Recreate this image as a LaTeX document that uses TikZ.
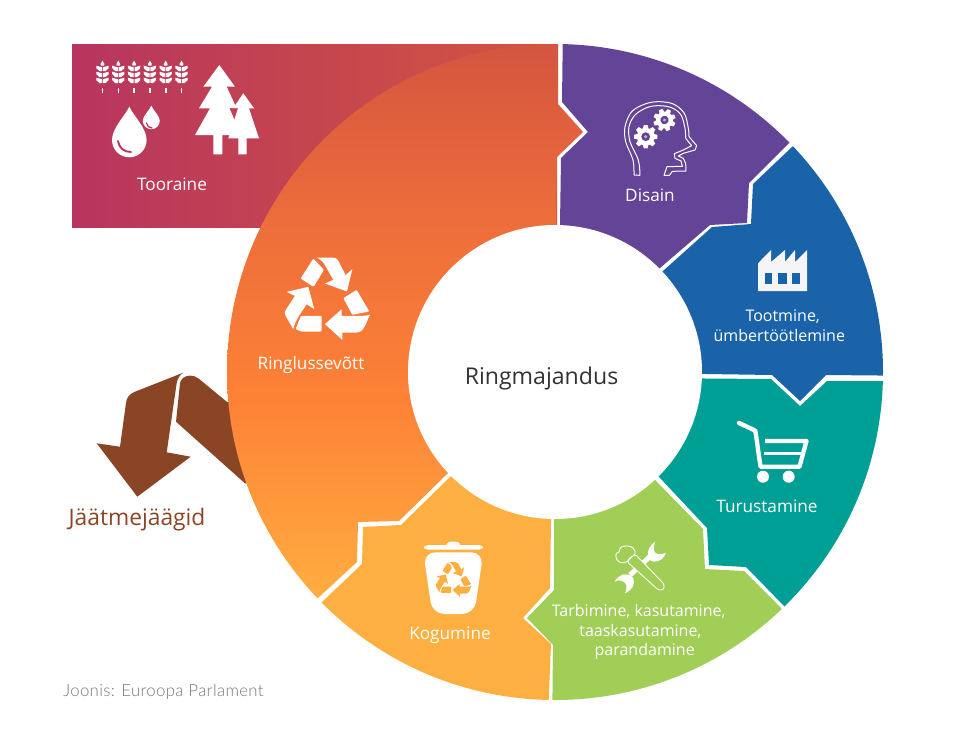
\documentclass[tikz,border=0pt]{standalone}
\usepackage{fontspec}
\setmainfont{Open Sans}
\newfontfamily\thinfont[LetterSpace=2]{Lato Light}
\usetikzlibrary{calc}
\definecolor{cDisain}{HTML}{644496}
\definecolor{cToot}{HTML}{1B63A9}
\definecolor{cTuru}{HTML}{009F95}
\definecolor{cTarb}{HTML}{A1CE57}
\definecolor{cKogu}{HTML}{FEAF41}
\definecolor{cBrown}{HTML}{8A4525}
\definecolor{cPink}{HTML}{B7355F}
\definecolor{cRed}{HTML}{D3553F}
\definecolor{cOr1}{HTML}{EE6E3B}
\definecolor{cOr2}{HTML}{FE8236}
\definecolor{cOr3}{HTML}{FFAE40}
\definecolor{cText}{HTML}{333333}
\definecolor{cGrey}{HTML}{777777}
\pgfdeclareverticalshading{ringramp}{100bp}{color(0bp)=(cOr3);color(28.25bp)=(cOr3);color(44.5bp)=(cOr2);color(59bp)=(cOr1);color(74bp)=(cRed);color(100bp)=(cRed)}
\tikzset{
  lbl/.style={text=white,font=\fontsize{17.2}{19.6}\selectfont,align=center,inner sep=0pt},
  lblsmall/.style={text=white,font=\fontsize{16}{19.6}\selectfont,align=center,inner sep=0pt},
  wheat/.pic={
    \fill[white] (0,0) .. controls (-2.3,2) and (-2.3,5) .. (-1.5,5) -- (1.5,5) .. controls (2.3,5) and (2.3,2) .. (0,0) -- cycle;
    \foreach \yy in {7.6,13.6,19.6}{
      \fill[white] (-6.2,\yy-2.6) -- (-0.4,\yy-1) -- (-0.4,\yy+2.8) -- (-3,\yy+2.8) -- (-6,\yy) -- cycle;
      \fill[white] (6.2,\yy-2.6) -- (0.4,\yy-1) -- (0.4,\yy+2.8) -- (3,\yy+2.8) -- (6,\yy) -- cycle;
    }
    \fill[white] (-0.8,27) rectangle (0.8,32.6);
  },
  recycle/.pic={
    \begin{scope}[shift={(-157,-148)}]
    \path[pic actions,rounded corners=1pt] (115,28) -- (77,88) -- (116,113) -- (147,62) -- cycle;
    \path[pic actions] (125,25) -- (172,25) .. controls (182,25) and (186,28) .. (190,35) -- (212,78) -- (232,60) -- (216,127) -- (150,103) -- (175,92) -- (150,48) .. controls (145,38) and (135,30) .. (125,25) -- cycle;
    \path[pic actions,rounded corners=1pt] (205,147) -- (245,122) -- (283,187) -- (232,197) -- cycle;
    \path[pic actions] (285,197) .. controls (272,222) and (268,250) .. (245,250) -- (202,250) -- (202,272) -- (150,225) -- (200,180) -- (200,200) -- (250,200) .. controls (265,200) and (275,200) .. (285,197) -- cycle;
    \path[pic actions,rounded corners=1pt] (62,240) -- (78,200) -- (140,200) -- (140,247) -- (78,247) -- cycle;
    \path[pic actions] (55,240) -- (32,200) .. controls (28,192) and (28,188) .. (32,183) -- (60,140) -- (35,128) -- (100,113) -- (118,180) -- (95,165) -- (72,200) .. controls (65,212) and (58,225) .. (55,240) -- cycle;
    \end{scope}
  },
  gearicon/.pic={
    \fill[white] (0,0) circle[radius=8.8];
    \foreach \aa in {0,45,...,315}{
      \fill[white,rotate=\aa] (-1.9,-11.7) -- (1.9,-11.7) -- (3,-7) -- (-3,-7) -- cycle;
    }
    \fill[cDisain] (0,0) circle[radius=4.4];
    \fill[white!60!cDisain] (0,0) circle[radius=1.7];
  }
}
\begin{document}
\begin{tikzpicture}[x=1pt,y=-1pt]
\useasboundingbox (0,0) rectangle (969,755);
\fill[white] (0,0) rectangle (969,755);

% brown arrow
\fill[cBrown] (176,421.7) -- (245,483.3) -- (290,483.3) -- (290,420) -- (226.7,401.7) -- (198.3,378.3) .. controls (193,374.5) and (187,375) .. (183,378) .. controls (181,380) and (180,382) .. (180,383.3) -- cycle;
\fill[cBrown] (183.3,372.7) -- (135,391.7) .. controls (128,394.5) and (126.5,399) .. (126,403) -- (120,446.7) -- (96.7,443.3) -- (137.3,496.7) -- (190.7,456.7) -- (166.7,452.3) -- (176.7,383) .. controls (177.5,378) and (180,375) .. (183.3,372.7) -- cycle;

% raw material box
\shade[left color=cPink,right color=cRed] (72,44) rectangle (557,227);

% ring
\begin{scope}
\clip (555,372) circle[radius=328];
\begin{scope}
\clip (558,10) -- (558,104) -- (583,132) -- (557,157) -- (556,225) -- (556,300) -- (490,432) -- (447,474) -- (399,521) -- (358,522) -- (357,562) -- (317,599) -- (280,635) -- (200,635) -- (200,10) -- cycle;
\shade[shading=ringramp] (200,30) rectangle (600,640);
\end{scope}
\fill[cDisain] (563,20) -- (562,102) -- (588,132) -- (561,158) -- (560,225) -- (560,300) -- (620,302) -- (660,268) -- (710,225) -- (747,223) -- (749,183) -- (788,144) -- (830,102) -- (830,20) -- cycle;
\fill[cToot] (830,110) -- (792,147) -- (753,184) -- (751,224) -- (712,227) -- (663,271) -- (620,310) -- (640,373) -- (772,375) -- (800,401) -- (826,375) -- (930,376) -- (930,110) -- cycle;
\fill[cTuru] (640,378) -- (771,379) -- (800,406) -- (827,381) -- (930,381) -- (930,643) -- (820,643) -- (784,606) -- (746,567) -- (709,565) -- (707,528) -- (660,478) -- (620,436) -- cycle;
\fill[cTarb] (620,444) -- (657,482) -- (703,529) -- (705,569) -- (744,571) -- (781,608) -- (820,648) -- (820,740) -- (552,740) -- (553,645) -- (527,618) -- (554,590) -- (554,522) -- (554,440) -- cycle;
\fill[cKogu] (490,438) -- (449,478) -- (401,525) -- (363,527) -- (362,564) -- (322,602) -- (280,642) -- (280,740) -- (547,740) -- (551,644) -- (523,618) -- (550,588) -- (551,522) -- (551,440) -- cycle;
\end{scope}
\fill[white] (555,372) circle[radius=147];

% wheat
\foreach \xx in {102.5,118.3,134.1,149.9,165.7,181.5}{\pic at (\xx,60.7) {wheat};}
% drops
\fill[white] (129.3,106.7) .. controls (125,116) and (112,128) .. (112,140) arc[start angle=180,end angle=0,radius=17.3] .. controls (146.6,128) and (133.6,116) .. (129.3,106.7) -- cycle;
\fill[white] (151.3,105.7) .. controls (149,111) and (142.8,116) .. (142.8,120.7) arc[start angle=180,end angle=0,radius=8.5] .. controls (159.8,116) and (153.6,111) .. (151.3,105.7) -- cycle;
\draw[cPink!92!cRed,line width=1.9,line cap=round] (118,141) .. controls (119,148) and (124,152) .. (131,152);
\draw[cPink!92!cRed,line width=1.3,line cap=round] (146.5,123) .. controls (147,126) and (149,128) .. (152,128);
% trees
\fill[white] (219.3,65) -- (235,86.7) -- (226.7,86.7) -- (236.7,108.3) -- (230,108.3) -- (240,135) -- (222.3,135) -- (222.3,154.3) -- (213.3,154.3) -- (213.3,135) -- (195,135) -- (210,108.3) -- (199,108.3) -- (212,86.7) -- (203.3,86.7) -- cycle;
\fill[white] (243.3,93.3) -- (254,108.3) -- (249,108.3) -- (259,138.3) -- (246.7,138.3) -- (246.7,154.3) -- (238.3,154.3) -- (238.3,138.3) -- (228.3,138.3) -- (238,108.3) -- (233,108.3) -- cycle;
\fill[cPink!65!cRed] (229.5,108.3) -- (237.5,108.3) -- (233.3,116) -- cycle;

% head
\begin{scope}[shift={(615,95)},scale=0.3333]
\draw[white,line width=1pt,line join=round] plot[smooth,tension=.55] coordinates {(57,240) (54,195) (32,140) (30,95) (50,50) (90,27) (130,20) (175,27) (208,55) (220,100) (222,125)};
\draw[white,line width=1pt,line join=round] (222,125) -- (245,152) -- (240,165) -- (205,175) -- (190,183) -- (205,190) -- (212,205) -- (213,228) -- (172,229) -- (163,241) -- (147,241) -- (156,215) -- (202,214) -- (198,198) -- (180,190) -- (178,176) -- (205,165) -- (230,152) -- (212,130);
\draw[white,line width=1pt,line join=round] plot[smooth,tension=.55] coordinates {(75,241) (70,195) (45,140) (42,95) (60,60) (95,38) (130,32) (170,38) (198,60) (210,100) (212,130)};
\draw[white,line width=1pt] (57,240) -- (75,241);
\end{scope}
\pic at (645.7,136.7) {gearicon};
\pic[rotate=20,scale=0.95] at (664.5,120) {gearicon};

% factory
\fill[white!96!black] (758,291) -- (758,263.3) -- (771,250) -- (771,262) -- (785,250) -- (785,262) -- (795,250) -- (795,262) -- (807,250) -- (807,291) -- cycle;
\fill[cToot] (765,272.7) rectangle (772.3,284);
\fill[cToot] (778.3,272.7) rectangle (787,284);
\fill[cToot] (791.7,272.7) rectangle (800,284);

% cart
\draw[white,line width=4.4pt,line cap=round,line join=round] (739,423) -- (754,430);
\draw[white,line width=4.3pt,line join=round] (754,430) -- (755.5,431.5) -- (760.5,466.7) -- (799.5,466.7) -- (806.5,441) -- (765,441);
\draw[white,line width=3.8pt] (764,453.4) -- (803,453.4);
\fill[white] (763,476.7) circle[radius=6];
\fill[white] (788.7,476.7) circle[radius=6];

% tools
\begin{scope}[shift={(605,530)},scale=0.3333]
\draw[white,line width=5pt] (75,135) -- (140,75);
\fill[white] (150,35) .. controls (122,55) and (122,90) .. (145,95) .. controls (165,95) and (178,85) .. (183,68) .. controls (170,75) and (150,75) .. (147,62) .. controls (146,52) and (148,42) .. (150,35) -- cycle;
\fill[white] (28,155) .. controls (45,130) and (70,125) .. (85,145) .. controls (92,165) and (80,180) .. (60,190) .. controls (68,170) and (65,160) .. (55,155) .. controls (45,150) and (35,150) .. (28,155) -- cycle;
\draw[white,fill=cTarb,line width=0.9pt,rounded corners=2.5pt] (66,95) -- (90,72) -- (178,163) -- (176,180) -- (160,180) -- cycle;
\draw[white,fill=cTarb,line width=0.9pt] plot[smooth cycle,tension=.7] coordinates {(48,52) (68,48) (85,55) (90,72) (75,83) (66,95) (45,97) (34,85) (34,70) (42,66)};
\end{scope}

% bin
\begin{scope}[shift={(415,535)},scale=0.3333]
\fill[white,rounded corners=4pt] (27,30) rectangle (204,44);
\fill[white] (94,32) .. controls (96,20) and (105,20) .. (115,20) .. controls (125,20) and (134,20) .. (136,32) -- cycle;
\fill[white,rounded corners=12pt] (25,52) -- (205,52) -- (178,237) -- (52,237) -- cycle;
\end{scope}
\pic[scale=0.14,fill=cKogu] at (453.6,579.3) {recycle};
\pic[scale=0.3333,fill=white] at (327.3,298.5) {recycle};

% labels
\node[lbl] (tooraine) at (172,184) {Tooraine};
\node[lbl] (disain) at (650,195) {Disain};
\node[lblsmall] (toot) at (779.3,326) {\hspace{6.8pt}Tootmine,\\ümbertöötlemine};
\node[lbl] (turu) at (767,506) {Turustamine};
\node[lblsmall] (tarb) at (638.7,632) {Tarbimine, kasutamine,\\\hspace{3.4pt}taaskasutamine,\\\hspace{12pt}parandamine};
\node[lbl] (kogu) at (450,635) {Kogumine};
\node[lbl] (ring) at (311,365.5) {Ringlussevõtt};
\node[inner sep=0pt,text=cText,font=\fontsize{23.1}{26}\selectfont] (center) at (541.5,378) {Ringmajandus};
\node[inner sep=0pt,text=cBrown,font=\fontsize{22.8}{26}\selectfont] (jaak) at (137,520) {Jäätmejäägid};
\node[inner sep=0pt,text=cGrey,font=\thinfont\fontsize{16.8}{20}\selectfont] (src) at (163.5,692) {Joonis: Euroopa Parlament};
\end{tikzpicture}
\end{document}
